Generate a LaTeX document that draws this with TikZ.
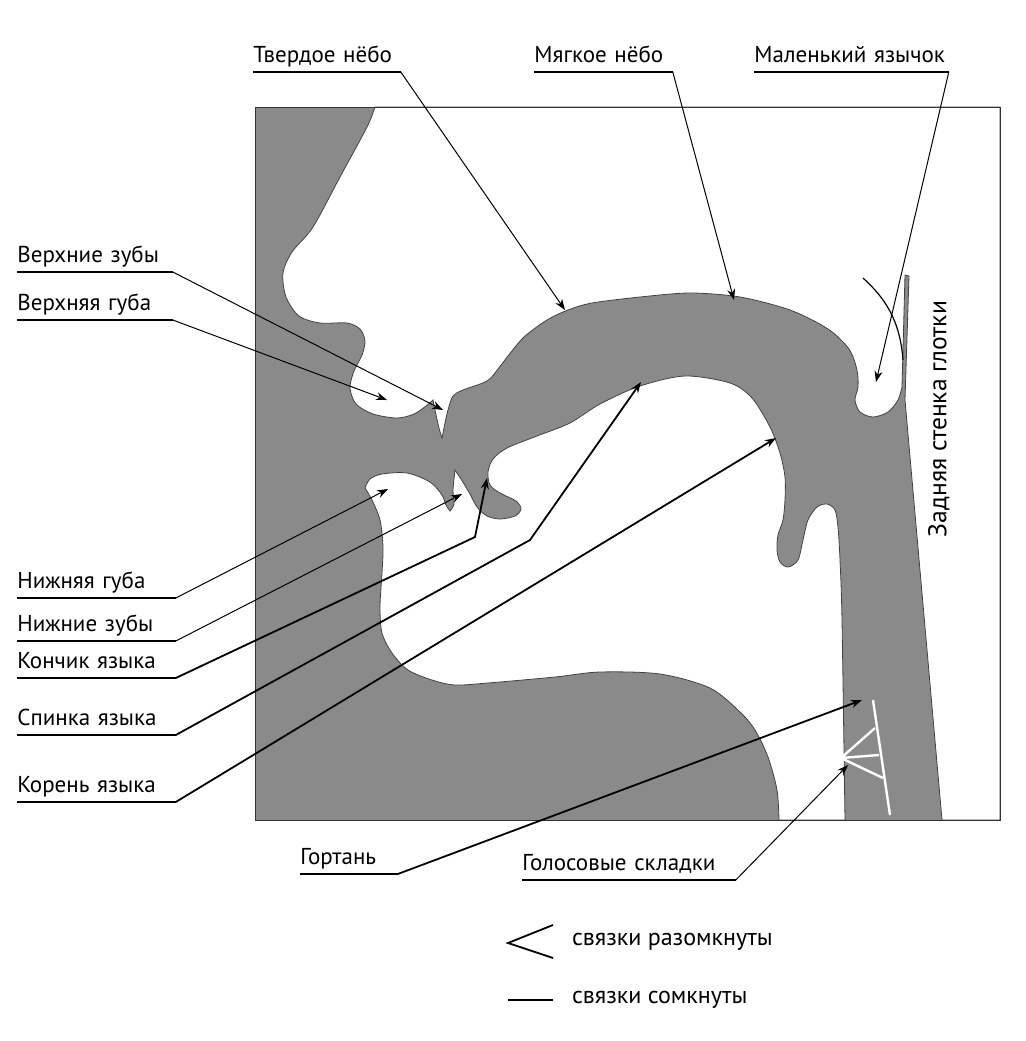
\documentclass[tikz,border=0pt]{standalone}
\usepackage{fontspec}
\setmainfont{PT Sans}
\usepackage{tikz}
\usetikzlibrary{arrows.meta}
\definecolor{tissue}{gray}{0.54}

\begin{document}
\begin{tikzpicture}[x=0.5pt, y=-0.5pt,
	lbl/.style={anchor=south west, inner xsep=0pt, inner ysep=0pt, text height=9pt,
		text depth=4.75pt, align=left, text width=#1, font=\fontsize{11.5}{13}\selectfont},
	under/.style={line width=1.2pt},
	lead/.style={line width=0.5pt, -{Stealth[length=5.5pt,width=4pt]}},
	leadthick/.style={line width=0.9pt, -{Stealth[length=5.5pt,width=4pt]}},
	air/.style={fill=white, draw=black!75, line width=0.4pt},
	fold/.style={white, line width=1.2pt}]
		\useasboundingbox (0,0) rectangle (1025,1041);
		% tissue
		\fill[tissue] (255,107) rectangle (1000,820);
		% air above the palate and in front of the face
		\path[air] (1000,107) -- (375,107)
		-- plot[smooth] coordinates {(375,107) (367,127) (340,177) (313,227) (292,252)
			(283,273) (286,297) (299,316) (320,323) (347,323) (360,329) (365,341)
			(362,355) (354,371) (350,388) (356,404) (373,414) (397,418) (414,414)
			(426,406) (433,400)}
		-- plot[smooth] coordinates {(433,400) (436,415) (439,428) (442,438)}
		-- plot[smooth] coordinates {(442,438) (445,423) (448,410) (453,396) (463,390)
			(487,381) (498,369) (508,356) (524,337) (547,320) (568,310) (592,303)
			(640,297) (690,293) (740,297) (790,310) (828,329) (849,349) (857,370)
			(858,387) (855,400) (860,412) (873,417) (888,412) (898,400) (902,387)}
		-- (905,275) -- (909,276) -- (905,400) -- (942,820) -- (1000,820) -- cycle;
		% air in the mouth and the larynx
		\path[air] plot[smooth] coordinates {(365,488) (370,479) (382,474) (407,473)
			(430,482) (442,495) (446,505) (450,511)}
		-- plot[smooth] coordinates {(450,511) (454,504) (453,490) (455,470)}
		-- plot[smooth] coordinates {(455,470) (461,479) (470,494) (477,507) (487,516)
			(500,519) (515,516) (521,509) (516,501) (500,493) (490,485) (488,472)
			(493,459) (507,448) (537,436) (570,423) (600,404) (640,386) (685,376)
			(730,383) (752,398) (770,427) (780,453) (785,477) (785,500) (783,520)
			(778,535) (777,550) (780,562) (788,567) (798,560) (803,540) (808,520)
			(817,507) (827,504) (835,510) (838,527) (840,560) (842,620) (845,820)}
		-- (779,820)
		-- plot[smooth] coordinates {(779,820) (777,790) (768,757) (755,730) (740,712)
			(710,688) (660,674) (600,672) (555,677) (488,683) (455,685) (432,680)
			(408,670) (392,653) (382,633) (380,607) (382,573) (383,547) (380,520)
			(372,500) (365,488)}
		-- cycle;
		\draw[black!80, line width=0.5pt] (255,107) rectangle (1000,820);
		\draw[line width=0.6pt] (863,278) .. controls (885,298) and (900,320) .. (903,360);
		% vocal folds
		\coordinate (apex) at (841,758);
		\draw[fold] (873,700) -- (890,815);
		\draw[fold] (875,728) -- (apex) -- (879,755);
		\draw[fold] (apex) -- (883,778);
		\node[rotate=90, font=\fontsize{12.8}{14}\selectfont] (wall) at (939,419) {Задняя стенка глотки};
		% labels
		\node[lbl=73.5pt] (hard) at (253,72) {Твердое нёбо};
		\node[lbl=69pt] (soft) at (534,72) {Мягкое нёбо};
		\node[lbl=97pt] (uvula) at (754,72) {Маленький язычок};
		\node[lbl=77.5pt] (upteeth) at (17,272) {Верхние зубы};
		\node[lbl=77.5pt] (uplip) at (17,320) {Верхняя губа};
		\node[lbl=79pt] (lowlip) at (17,598) {Нижняя губа};
		\node[lbl=79pt] (lowteeth) at (17,641) {Нижние зубы};
		\node[lbl=79pt] (tip) at (17,678) {Кончик языка};
		\node[lbl=79pt] (back) at (17,735) {Спинка языка};
		\node[lbl=79pt] (root) at (17,802) {Корень языка};
		\node[lbl=48.5pt] (larynx) at (300,874) {Гортань};
		\node[lbl=106.5pt] (folds) at (522,880) {Голосовые складки};
		\foreach \n in {hard,soft,uvula,upteeth,uplip,lowlip,lowteeth,tip,back,root,larynx,folds}
			\draw[under] (\n.south west) -- (\n.south east);
		% arrow ends
		\coordinate (pHard) at (565,310);
		\coordinate (pSoft) at (734,300);
		\coordinate (pUvula) at (876,382);
		\coordinate (pUpTeeth) at (443,410);
		\coordinate (pUpLip) at (387,400);
		\coordinate (pLowLip) at (388,489);
		\coordinate (pLowTeeth) at (462,494);
		\coordinate (bTip) at (475,537);
		\coordinate (pTip) at (487,478);
		\coordinate (bBack) at (530,540);
		\coordinate (pBack) at (641,382);
		\coordinate (pRoot) at (776,438);
		\coordinate (pLarynx) at (862,700);
		\coordinate (pFolds) at (848,765);
		\draw[lead] (hard.south east) -- (pHard);
		\draw[lead] (soft.south east) -- (pSoft);
		\draw[lead] (uvula.south east) -- (pUvula);
		\draw[lead] (upteeth.south east) -- (pUpTeeth);
		\draw[lead] (uplip.south east) -- (pUpLip);
		\draw[lead] (lowlip.south east) -- (pLowLip);
		\draw[lead] (lowteeth.south east) -- (pLowTeeth);
		\draw[leadthick] (tip.south east) -- (bTip) -- (pTip);
		\draw[leadthick] (back.south east) -- (bBack) -- (pBack);
		\draw[leadthick] (root.south east) -- (pRoot);
		\draw[leadthick] (larynx.south east) -- (pLarynx);
		\draw[lead] (folds.south east) -- (pFolds);
		% legend
		\node[anchor=west, font=\fontsize{12}{14}\selectfont] (open) at (565,942) {связки разомкнуты};
		\node[anchor=west, font=\fontsize{12}{14}\selectfont] (closed) at (565,1000) {связки сомкнуты};
		\draw[line width=0.9pt] (553,925) -- (508,943) -- (553,958);
		\draw[line width=0.9pt] (508,1000) -- (553,1000);
\end{tikzpicture}
\end{document}
